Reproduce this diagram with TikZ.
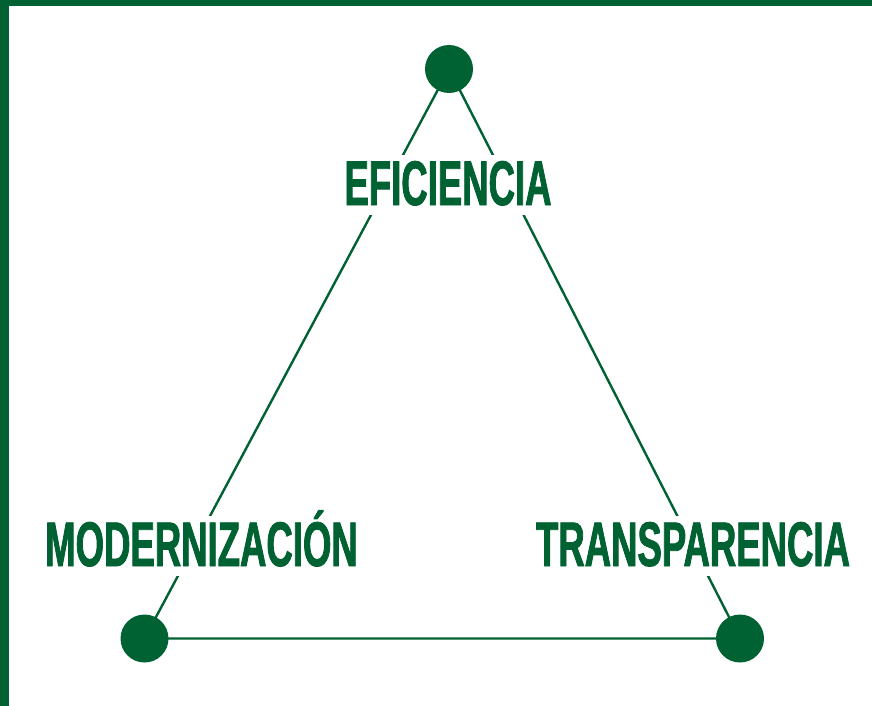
\documentclass[tikz,border=0pt]{standalone}
\usepackage{fontspec}
\newfontfamily\labelfont[FakeStretch=0.58,FakeBold=1.3]{Liberation Sans}
\definecolor{leafgreen}{RGB}{0,98,50}
\tikzset{greendot/.style={fill,circle,color=leafgreen,minimum size=48pt,inner sep=0,outer sep=0},
         vertexlabel/.style={fill=white,text=leafgreen,inner sep=0,anchor=base,
           text height=50pt,text depth=10pt,
           font=\labelfont\bfseries\fontsize{63}{63}\selectfont}
}
\begin{document}
\begin{tikzpicture}[x=1pt,y=-1pt,draw/.append style={line width=2.4pt,leafgreen}]
  \useasboundingbox(0,0)rectangle(872,706);
  \fill[leafgreen](0,0)rectangle(872,6);
  \fill[leafgreen](0,0)rectangle(8.5,706);
  \coordinate(apex) at (449,69);
  \coordinate(lft) at (144.5,638.5);
  \coordinate(rgt) at (740,638.5);
  \draw(apex)--(lft)--(rgt)--cycle;
%  labels sit on the sides and hide the line
  \node[vertexlabel](eff) at (448,205) {EFICIENCIA};
  \node[vertexlabel](mod) at (201.5,566) {MODERNIZACIÓN};
  \node[vertexlabel](tra) at (693,566) {TRANSPARENCIA};
  \node[greendot](apexdot) at (apex) {};
  \node[greendot](lftdot) at (lft) {};
  \node[greendot](rgtdot) at (rgt) {};
\end{tikzpicture}
\end{document}
